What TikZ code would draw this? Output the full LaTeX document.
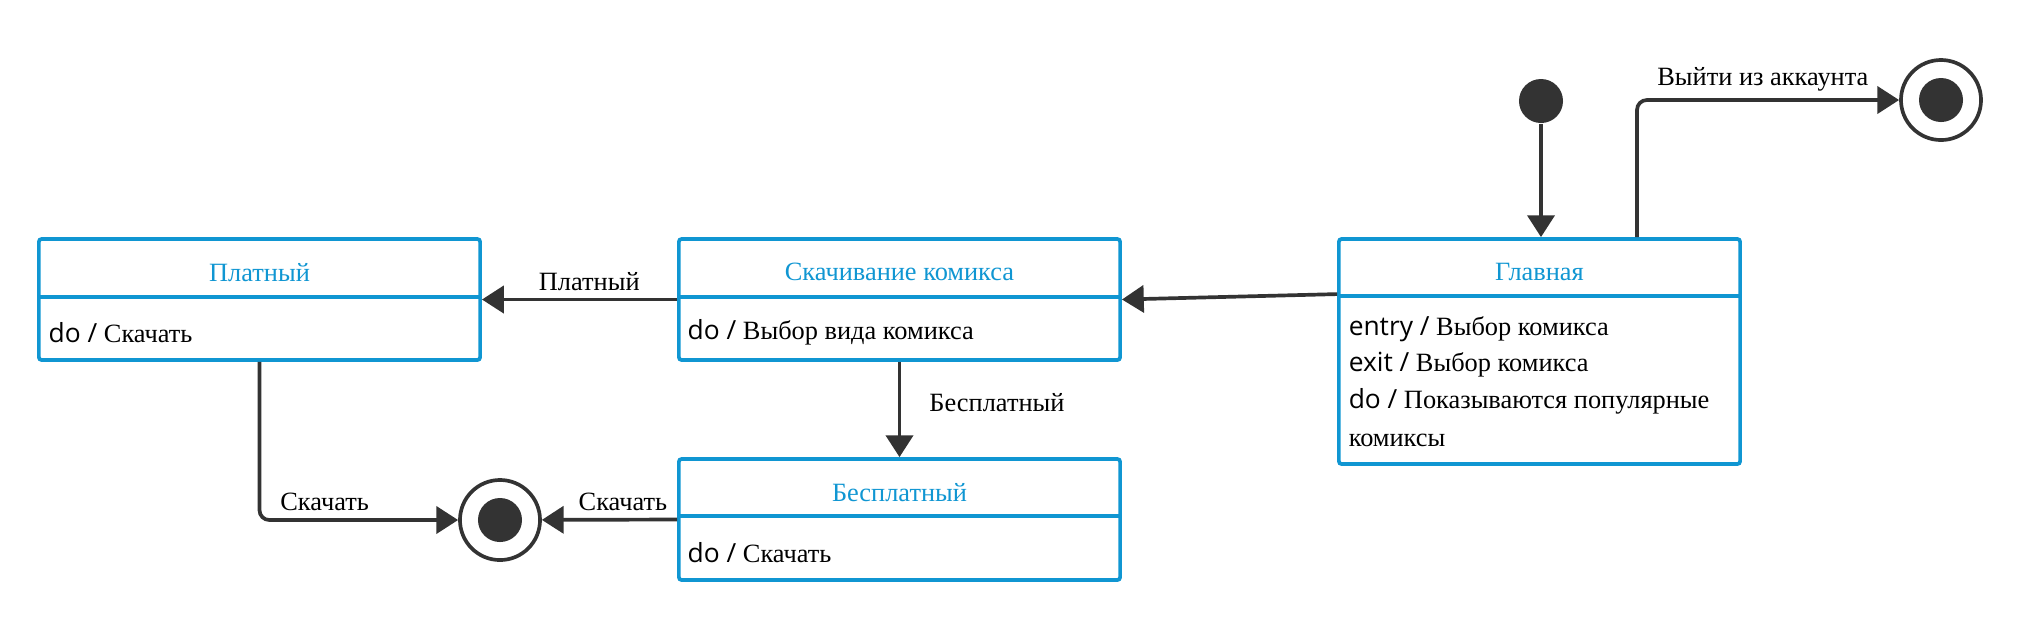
\documentclass[tikz,border=0pt]{standalone}
\usepackage{fontspec}
\setmainfont{Liberation Serif}
\newfontfamily\dofont{Open Sans}
\usetikzlibrary{arrows.meta,positioning,calc,shapes.geometric}
\definecolor{stblue}{RGB}{16,150,210}
\definecolor{trgray}{RGB}{51,51,51}

\begin{document}
\begin{tikzpicture}[x=0.01cm, y=-0.01cm, font=\fontsize{7.5}{9}\selectfont,
    >={Triangle[length=6.2pt,width=7.7pt]},
    state/.style={draw=stblue, line width=1.05pt, rounded corners=0.8pt, inner sep=0pt},
    sep/.style={stblue, line width=1.05pt},
    ttl/.style={text=stblue, inner sep=0pt},
    act/.style={anchor=west, inner sep=0pt},
    tr/.style={->, trgray, line width=1.05pt, rounded corners=2.8pt},
    lbl/.style={text=black, inner sep=2pt},
    initst/.style={circle, fill=trgray, minimum size=0.44cm, inner sep=0pt},
    finst/.style={circle, draw=trgray, line width=1.05pt, minimum size=0.8cm, inner sep=0pt}]
    \useasboundingbox (0,0) rectangle (2020,620);

    % States
    \node[state, minimum width=4.41cm, minimum height=1.21cm] (paid) at (259.5,299.5) {};
    \node[state, minimum width=4.41cm, minimum height=1.21cm] (dl) at (899.5,299.5) {};
    \node[state, minimum width=4.41cm, minimum height=1.21cm] (free) at (899.5,519.5) {};
    \node[state, minimum width=4.01cm, minimum height=2.25cm] (main) at (1539.5,351.5) {};

    % Dividers
    \draw[sep] ($(paid.north west)+(0,60)$) -- ($(paid.north east)+(0,60)$);
    \draw[sep] ($(dl.north west)+(0,60)$) -- ($(dl.north east)+(0,60)$);
    \draw[sep] ($(free.north west)+(0,59)$) -- ($(free.north east)+(0,59)$);
    \draw[sep] ($(main.north west)+(0,59)$) -- ($(main.north east)+(0,59)$);

    % Titles
    \node[ttl] (paidT) at ($(paid.north)+(0,35)$) {Платный};
    \node[ttl] (dlT) at ($(dl.north)+(0,35)$) {Скачивание комикса};
    \node[ttl] (freeT) at ($(free.north)+(0,35)$) {Бесплатный};
    \node[ttl] (mainT) at ($(main.north)+(0,35)$) {Главная};

    % Activities
    \node[act] (paidA) at ($(paid.north west)+(11,95)$) {{\dofont do /} Скачать};
    \node[act] (dlA) at ($(dl.north west)+(10,95)$) {{\dofont do /} Выбор вида комикса};
    \node[act] (freeA) at ($(free.north west)+(10,95)$) {{\dofont do /} Скачать};
    \node[act] (mainA) at ($(main.north west)+(11,92)$) {{\dofont entry /} Выбор комикса};
    \node[act] (mainB) at ($(main.north west)+(11,128)$) {{\dofont exit /} Выбор комикса};
    \node[act] (mainC) at ($(main.north west)+(11,164)$) {{\dofont do /} Показываются популярные};
    \node[act] (mainD) at ($(main.north west)+(11,203)$) {комиксы};

    % Pseudo states
    \node[initst] (start) at (1541,101) {};
    \node[finst] (end1) at (1941,100) {};
    \node[initst] (end1i) at (end1) {};
    \node[finst] (end2) at (500,520) {};
    \node[initst] (end2i) at (end2) {};
    \coordinate (mx) at ($(main.north west)+(300,0)$);

    % Transitions
    \draw[tr] (start) -- (start |- main.north);
    \draw[tr] (mx) |- (end1) node[lbl, pos=0.74, above] {Выйти из аккаунта};
    \draw[tr] ($(main.north west)+(0,57)$) -- (dl.east);
    \draw[tr] (dl.west) -- (paid.east) node[lbl, pos=0.45, above] {Платный};
    \draw[tr] (dl.south) -- (free.north) node[lbl, midway, right=6pt, yshift=2pt] {Бесплатный};
    \draw[tr] (paid.south) |- (end2) node[lbl, pos=0.664, above] {Скачать};
    \draw[tr] (free.west) -- (end2) node[lbl, pos=0.4, above] {Скачать};
\end{tikzpicture}
\end{document}
